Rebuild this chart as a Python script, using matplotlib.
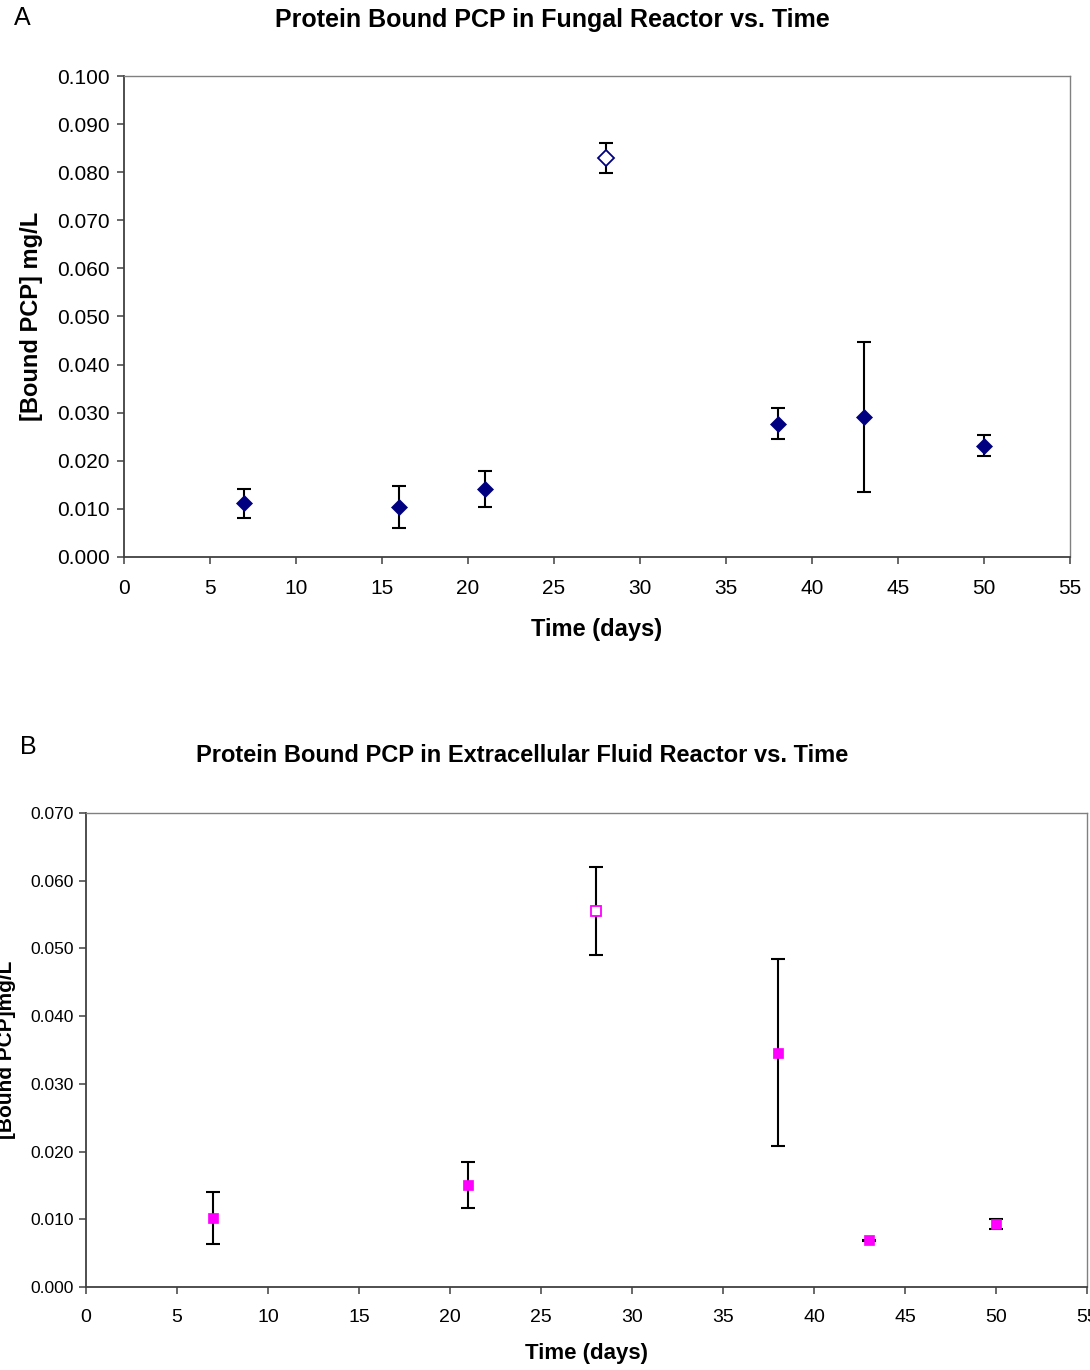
import matplotlib
matplotlib.use("Agg")
import matplotlib.pyplot as plt

plt.rcParams['font.family'] = ['Liberation Sans', 'DejaVu Sans']

# Fungal reactor: protein bound PCP
days_a = [7, 16, 21, 28, 38, 43, 50]
pcp_a = [0.0112, 0.0104, 0.0141, 0.0830, 0.0277, 0.0292, 0.0231]
err_a = [0.0030, 0.0044, 0.0038, 0.0031, 0.0032, 0.0156, 0.0022]
hollow_a = [False, False, False, True, False, False, False]

# Extracellular fluid reactor: protein bound PCP
days_b = [7, 21, 28, 38, 43, 50]
pcp_b = [0.0102, 0.0151, 0.0555, 0.0346, 0.0069, 0.0093]
err_b = [0.0039, 0.0034, 0.0065, 0.0138, 0.0001, 0.0008]
hollow_b = [False, False, True, False, False, False]

yticks_a = [0.000, 0.010, 0.020, 0.030, 0.040, 0.050, 0.060, 0.070, 0.080, 0.090, 0.100]
yticks_b = [0.000, 0.010, 0.020, 0.030, 0.040, 0.050, 0.060, 0.070]
xticks = list(range(0, 56, 5))

fig = plt.figure(figsize=(10.9, 13.7), dpi=100)


def style_axes(ax, tick_fs):
    for side in ['left', 'bottom']:
        ax.spines[side].set_color('#404040')
        ax.spines[side].set_linewidth(1.3)
    for side in ['top', 'right']:
        ax.spines[side].set_color('#808080')
        ax.spines[side].set_linewidth(1.0)
    ax.tick_params(direction='out', length=5, width=1.1, color='#404040',
                   labelsize=tick_fs)


def draw_points(ax, x, y, e, hollow, color, marker, ms):
    ax.errorbar(x, y, yerr=e, fmt='none', ecolor='black', elinewidth=1.5,
                capsize=5, capthick=1.5, zorder=2)
    for xi, yi, h in zip(x, y, hollow):
        ax.plot(xi, yi, marker=marker, ms=ms, linestyle='none',
                markerfacecolor='white' if h else color,
                markeredgecolor=color, markeredgewidth=1.3 if h else 0.5,
                zorder=3)


# Panel A
ax1 = fig.add_axes([124 / 1090, 1 - 557 / 1370, 946 / 1090, 481 / 1370])
draw_points(ax1, days_a, pcp_a, err_a, hollow_a, '#000080', 'D', 8)
ax1.set_xlim(0, 55)
ax1.set_ylim(0, 0.1)
ax1.set_xticks(xticks)
ax1.set_yticks(yticks_a)
ax1.set_yticklabels([f"{v:.3f}" for v in yticks_a])
style_axes(ax1, 15)
ax1.tick_params(axis='x', pad=11)
ax1.tick_params(axis='y', pad=5)
ax1.set_xlabel('Time (days)', fontsize=17, fontweight='bold', labelpad=14)
ax1.set_ylabel('[Bound PCP] mg/L', fontsize=17, fontweight='bold', labelpad=10)
fig.text(552 / 1090, 1 - 20 / 1370, 'Protein Bound PCP in Fungal Reactor vs. Time',
         ha='center', va='center', fontsize=18, fontweight='bold')
fig.text(22 / 1090, 1 - 18 / 1370, 'A', ha='center', va='center', fontsize=18)

# Panel B
ax2 = fig.add_axes([86 / 1090, 1 - 1287 / 1370, 1001 / 1090, 474 / 1370])
draw_points(ax2, days_b, pcp_b, err_b, hollow_b, '#ff00ff', 's', 6.5)
ax2.set_xlim(0, 55)
ax2.set_ylim(0, 0.07)
ax2.set_xticks(xticks)
ax2.set_yticks(yticks_b)
ax2.set_yticklabels([f"{v:.3f}" for v in yticks_b])
style_axes(ax2, 12.5)
ax2.tick_params(axis='x', labelsize=14, pad=11)
ax2.tick_params(axis='y', pad=4)
ax2.set_xlabel('Time (days)', fontsize=16, fontweight='bold', labelpad=12)
ax2.set_ylabel('[Bound PCP]mg/L', fontsize=15, fontweight='bold', labelpad=10)
fig.text(522 / 1090, 1 - 755 / 1370,
         'Protein Bound PCP in Extracellular Fluid Reactor vs. Time',
         ha='center', va='center', fontsize=17, fontweight='bold')
fig.text(28 / 1090, 1 - 747 / 1370, 'B', ha='center', va='center', fontsize=18)

fig.savefig('out.png', dpi=100)
